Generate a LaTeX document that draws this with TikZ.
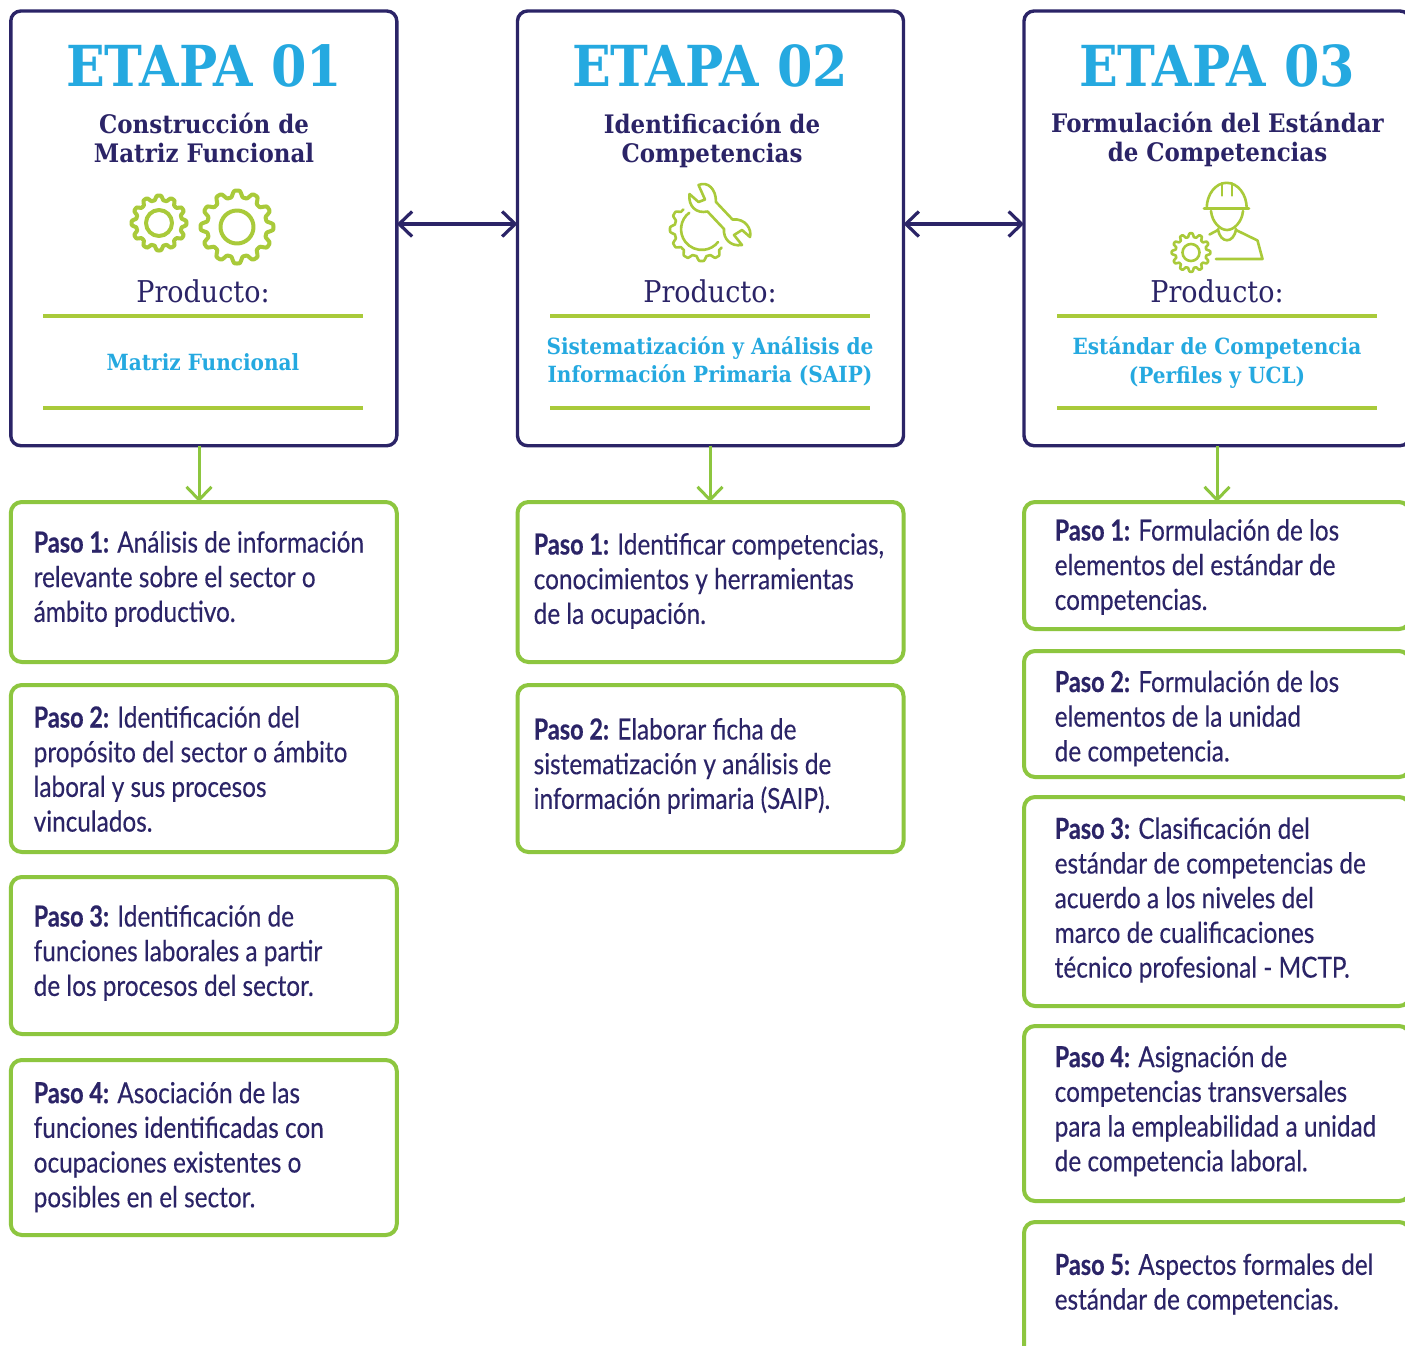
\documentclass[tikz,border=0pt]{standalone}
\usepackage{fontspec}
\usetikzlibrary{arrows.meta,calc}
\newfontfamily\slabfont[FakeStretch=0.90]{DejaVu Serif}
\newfontfamily\bodyfont[FakeStretch=0.84,FakeBold=0.25,BoldFeatures={FakeStretch=0.81,FakeBold=0.4}]{Lato}
\definecolor{navy}{HTML}{2B2467}
\definecolor{sky}{HTML}{25A9E0}
\definecolor{boxgreen}{HTML}{8DC63F}
\definecolor{lime}{HTML}{A9CA3A}
\tikzset{
  stagebox/.style={draw=navy,line width=3.4pt,rounded corners=10pt,anchor=north west,minimum width=386pt,minimum height=434.7pt,inner sep=0pt,outer sep=0pt},
  stepbox/.style={draw=boxgreen,line width=4pt,rounded corners=11pt,anchor=north west,minimum width=386pt,inner sep=0pt,outer sep=0pt},
  etapa/.style={font=\slabfont\bfseries\fontsize{56.5}{60}\selectfont,text=sky,inner sep=0pt},
  subt/.style={font=\slabfont\bfseries\fontsize{25.5}{29}\selectfont,text=navy,align=center,inner sep=0pt},
  prod/.style={font=\slabfont\fontsize{30}{32}\selectfont,text=navy,inner sep=0pt},
  outp/.style={font=\slabfont\bfseries\fontsize{22.3}{28.5}\selectfont,text=sky,align=center,inner sep=0pt},
  steptext/.style={font=\bodyfont\fontsize{29}{34.7}\selectfont,text=navy,align=left,anchor=west,inner sep=0pt},
  rule/.style={draw=lime,line width=4pt},
  navyarrow/.style={draw=navy,line width=3.2pt,{Straight Barb[length=13pt,width=25pt,line width=3.2pt]}-{Straight Barb[length=13pt,width=25pt,line width=3.2pt]}},
  greenarrow/.style={draw=boxgreen,line width=3pt,-{Straight Barb[length=13pt,width=25pt,line width=3pt]}},
  icon/.style={draw=lime,line join=round,line cap=round},
}
% cx, cy, root radius, tooth amplitude, teeth, domain start, domain end
\newcommand{\gearline}[7]{%
  \draw[icon] plot[smooth,tension=0.25,variable=\t,domain=#6:#7,samples=145]
   ({#1+(#3+#4*(1+max(min(1.6*cos(#5*\t),1),-1))/2)*cos(\t)},{#2+(#3+#4*(1+max(min(1.6*cos(#5*\t),1),-1))/2)*sin(\t)});}
\begin{document}
\begin{tikzpicture}[x=1pt,y=-1pt]
\useasboundingbox (0,0) rectangle (1405,1345);
\clip (0,0) rectangle (1405,1345);
\fill[white] (0,0) rectangle (1405,1345);

% stage boxes
\node[stagebox] (e1) at (10.8,11) {};
\node[stagebox] (e2) at (517.5,11) {};
\node[stagebox] (e3) at (1024,11) {};

% stage 1
\node[etapa] (t1) at (204,66) {ETAPA 01};
\node[subt] (s1) at (204,137.5) {Construcción de\\Matriz Funcional};
\node[prod] (pr1) at (203,291) {Producto:};
\node[outp] (o1) at (203,362) {Matriz Funcional};
\draw[rule] (43,316) -- (363,316);
\draw[rule] (43,408) -- (363,408);
\begin{scope}[line width=4pt]
\gearline{159}{223}{23}{4.5}{12}{0}{360}
\gearline{237}{227}{30}{6.5}{12}{0}{360}
\draw[icon] (159,223) circle (13);
\draw[icon] (237,227) circle (16.5);
\end{scope}

% stage 2
\node[etapa] (t2) at (710,66) {ETAPA 02};
\node[subt] (s2) at (712,140) {Identificación de\\Competencias};
\node[prod] (pr2) at (710,291) {Producto:};
\node[outp] (o2) at (710,361.5) {Sistematización y Análisis de\\Información Primaria (SAIP)};
\draw[rule] (550,316) -- (870,316);
\draw[rule] (550,408) -- (870,408);
\begin{scope}[line width=2.6pt,shift={(640,170)}]
\gearline{61.5}{59.5}{27}{4.5}{12}{42}{228}
\draw[icon] (49.3,42.7) arc[start angle=233,end angle=38,radius=20.7];
\draw[icon] (58.5,15) .. controls (68,11) and (76,19) .. (76,32)
  -- (92.5,49.5) .. controls (106,48) and (112,60) .. (110,67)
  -- (102,60) -- (94,65) -- (102,75)
  .. controls (90,77) and (83,68) .. (84,59)
  -- (67.5,41.5) .. controls (56,44) and (48,36) .. (49.5,24)
  -- (58.5,32) -- (65,29.5) -- cycle;
\end{scope}

% stage 3
\node[etapa] (t3) at (1217,66) {ETAPA 03};
\node[subt] (s3) at (1217.5,139.5) {Formulación del Estándar\\de Competencias};
\node[prod] (pr3) at (1217,291) {Producto:};
\node[outp] (o3) at (1217,362.5) {Estándar de Competencia\\(Perfiles y UCL)};
\draw[rule] (1057,316) -- (1377,316);
\draw[rule] (1057,408) -- (1377,408);
\begin{scope}[line width=2.6pt,shift={(1150,170)}]
\gearline{41}{82.5}{15.5}{3.8}{12}{0}{360}
\draw[icon] (41,82.5) circle (8.5);
\draw[icon] (56.7,38.3) arc[start angle=180,end angle=360,x radius=20,y radius=25.5];
\draw[icon] (54,38.5) -- (99,38.5);
\draw[icon] (72,25.5) -- (72,13) -- (82,13) -- (82,25.5);
\draw[icon] (61,41) .. controls (62,52) and (70,60) .. (77,60) .. controls (84,60) and (92,52) .. (93,41);
\draw[icon] (59.5,64.5) -- (68,60);
\draw[icon] (68,59) .. controls (70,74) and (84,74) .. (86,59);
\draw[icon] (86,60) -- (107.5,70.5) -- (112.5,89) -- (66,89);
\end{scope}

% step boxes, stage 1
\node[stepbox,minimum height=160pt] (a1) at (10.8,502) {};
\node[stepbox,minimum height=167pt] (a2) at (10.8,685) {};
\node[stepbox,minimum height=157pt] (a3) at (10.8,877) {};
\node[stepbox,minimum height=175pt] (a4) at (10.8,1060) {};
\node[steptext] (ta1) at (33.5,579) {\textbf{Paso 1:} Análisis de información\\relevante sobre el sector o\\ámbito productivo.};
\node[steptext] (ta2) at (33.5,769) {\textbf{Paso 2:} Identificación del\\propósito del sector o ámbito\\laboral y sus procesos\\vinculados.};
\node[steptext] (ta3) at (33.5,953) {\textbf{Paso 3:} Identificación de\\funciones laborales a partir\\de los procesos del sector.};
\node[steptext] (ta4) at (33.5,1147) {\textbf{Paso 4:} Asociación de las\\funciones identificadas con\\ocupaciones existentes o\\posibles en el sector.};

% step boxes, stage 2
\node[stepbox,minimum height=160pt] (b1) at (517.5,502) {};
\node[stepbox,minimum height=167pt] (b2) at (517.5,685) {};
\node[steptext] (tb1) at (533.5,581) {\textbf{Paso 1:} Identificar competencias,\\conocimientos y herramientas\\de la ocupación.};
\node[steptext] (tb2) at (533.5,766) {\textbf{Paso 2:} Elaborar ficha de\\sistematización y análisis de\\información primaria (SAIP).};

% step boxes, stage 3
\node[stepbox,minimum height=127pt] (c1) at (1024,502) {};
\node[stepbox,minimum height=126pt] (c2) at (1024,651) {};
\node[stepbox,minimum height=209pt] (c3) at (1024,797) {};
\node[stepbox,minimum height=175pt] (c4) at (1024,1026) {};
\node[stepbox,minimum height=140pt] (c5) at (1024,1222) {};
\node[steptext] (tc1) at (1054.5,567) {\textbf{Paso 1:} Formulación de los\\elementos del estándar de\\competencias.};
\node[steptext] (tc2) at (1054.5,718.5) {\textbf{Paso 2:} Formulación de los\\elementos de la unidad\\de competencia.};
\node[steptext] (tc3) at (1054.5,900) {\textbf{Paso 3:} Clasificación del\\estándar de competencias de\\acuerdo a los niveles del\\marco de cualificaciones\\técnico profesional - MCTP.};
\node[steptext] (tc4) at (1054.5,1111) {\textbf{Paso 4:} Asignación de\\competencias transversales\\para la empleabilidad a unidad\\de competencia laboral.};
\node[steptext] (tc5) at (1054.5,1284) {\textbf{Paso 5:} Aspectos formales del\\estándar de competencias.};

% connectors
\coordinate (la) at (0,224);
\draw[navyarrow] (e1.east |- la) -- (e2.west |- la);
\draw[navyarrow] (e2.east |- la) -- (e3.west |- la);
\draw[greenarrow] ([xshift=-4.8pt]e1.south) -- ([xshift=-4.8pt]a1.north);
\draw[greenarrow] ([xshift=-0.5pt]e2.south) -- ([xshift=-0.5pt]b1.north);
\draw[greenarrow] ([xshift=0pt]e3.south) -- ([xshift=0pt]c1.north);
\end{tikzpicture}
\end{document}
